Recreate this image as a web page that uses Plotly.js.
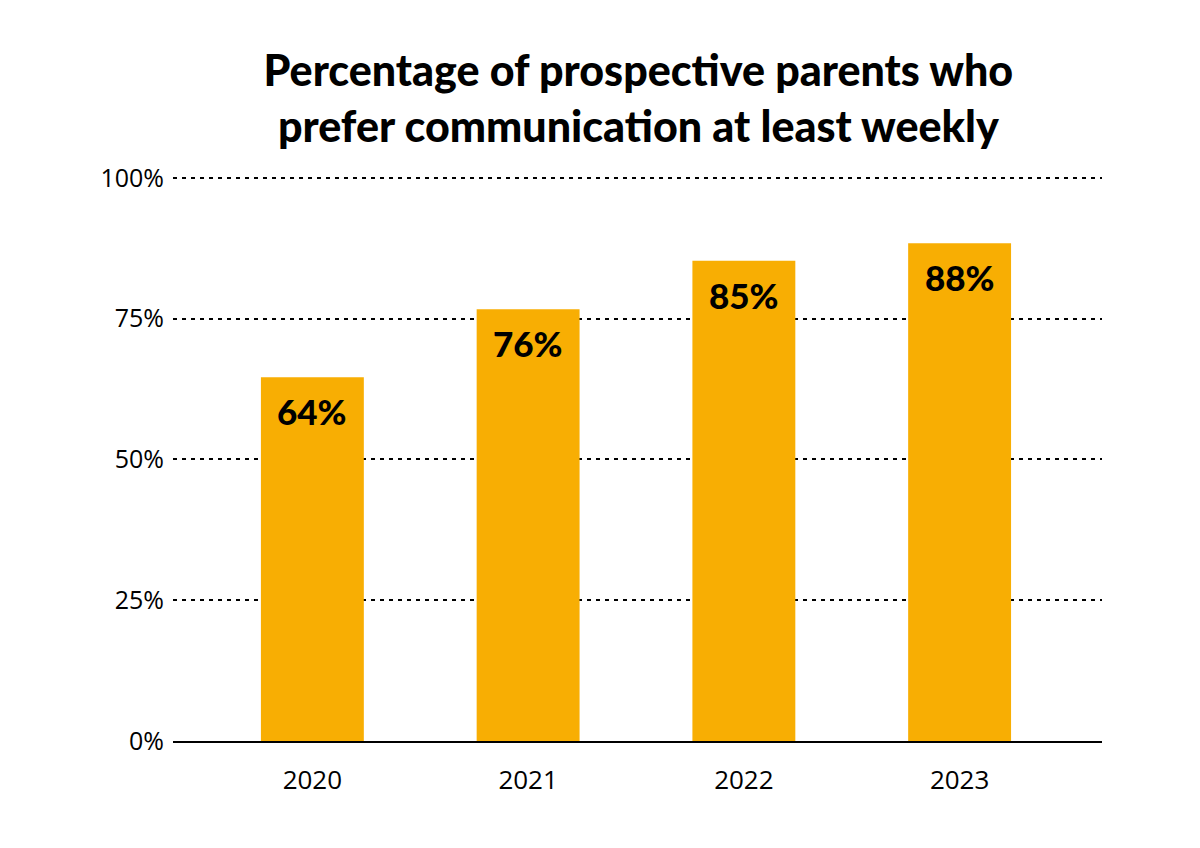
<!DOCTYPE html>
<html>
<head>
<meta charset="utf-8">
<script src="https://cdn.plot.ly/plotly-3.0.1.min.js"></script>
<style>html,body{margin:0;padding:0;background:#fff;}#chart{width:1200px;height:848px;}</style>
</head>
<body>
<div id="chart"></div>
<script>
const years = ["2020", "2021", "2022", "2023"];
const percentages = [64.6, 76.7, 85.3, 88.4];
const valueLabels = ["64%", "76%", "85%", "88%"];
const yTicks = [0, 25, 50, 75, 100];

const TICKFONT = "'Open Sans', Lato, sans-serif";
const BOLDFONT = "Lato, 'Open Sans', sans-serif";

const trace = {
  type: "bar",
  x: years,
  y: percentages,
  marker: {color: "#F8AE03"},
  width: 0.477,
  hoverinfo: "skip"
};

const annotations = years.map((yr, i) => ({
  x: i,
  y: percentages[i],
  xref: "x",
  yref: "y",
  text: valueLabels[i],
  showarrow: false,
  xanchor: "center",
  yanchor: "middle",
  yshift: -34,
  font: {family: BOLDFONT, size: 35, color: "#000", weight: 900}
}));

const layout = {
  width: 1200,
  height: 848,
  margin: {l: 173, r: 98, t: 176, b: 107},
  paper_bgcolor: "#fff",
  plot_bgcolor: "#fff",
  showlegend: false,
  annotations: annotations,
  title: {
    text: "Percentage of prospective parents who<br>prefer communication at least weekly",
    font: {family: BOLDFONT, size: 43, color: "#000", weight: 900},
    x: 0.532, xanchor: "center",
    y: 0.898, yanchor: "top"
  },
  xaxis: {
    type: "category",
    range: [-0.646, 3.66],
    showline: true,
    linecolor: "#000",
    linewidth: 1.5,
    showgrid: false,
    ticks: "",
    tickfont: {family: TICKFONT, size: 26, color: "#000"},
    ticklabelstandoff: 15
  },
  yaxis: {
    range: [0, 100.35],
    tickvals: yTicks,
    ticktext: yTicks.map(v => v + "%"),
    showgrid: true,
    gridcolor: "#000",
    gridwidth: 2,
    griddash: "4px,5px",
    zeroline: false,
    showline: false,
    ticks: "",
    tickfont: {family: TICKFONT, size: 25, color: "#000"},
    ticklabelstandoff: 8
  }
};

Plotly.newPlot("chart", [trace], layout, {displayModeBar: false, staticPlot: true});
</script>
</body>
</html>
